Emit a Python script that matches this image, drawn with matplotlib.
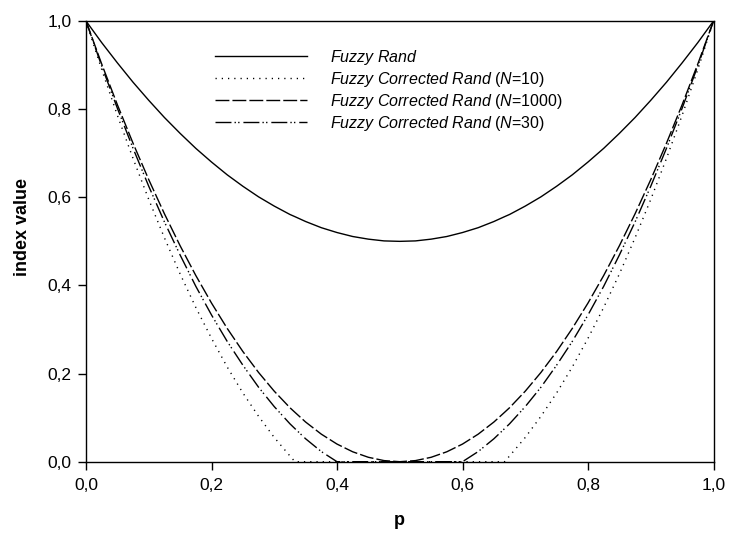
import matplotlib
matplotlib.use("Agg")
import matplotlib.pyplot as plt
from matplotlib.ticker import FixedLocator, FuncFormatter

plt.rcParams['font.family'] = ['Liberation Sans', 'DejaVu Sans']
plt.rcParams['mathtext.fontset'] = 'custom'
plt.rcParams['mathtext.rm'] = 'Liberation Sans'
plt.rcParams['mathtext.it'] = 'Liberation Sans:italic'
plt.rcParams['mathtext.bf'] = 'Liberation Sans:bold'

# ---- data ----
p = [0.0, 0.025, 0.05, 0.075, 0.1, 0.125, 0.15, 0.175, 0.2, 0.225, 0.25, 0.275,
     0.3, 0.325, 0.333, 0.35, 0.375, 0.4, 0.425, 0.45, 0.475, 0.5,
     0.525, 0.55, 0.575, 0.6, 0.625, 0.65, 0.667, 0.675, 0.7, 0.725, 0.75,
     0.775, 0.8, 0.825, 0.85, 0.875, 0.9, 0.925, 0.95, 0.975, 1.0]

fuzzy_rand = [1.0, 0.951, 0.905, 0.861, 0.82, 0.781, 0.745, 0.711, 0.68, 0.651, 0.625, 0.601,
              0.58, 0.561, 0.556, 0.545, 0.531, 0.52, 0.511, 0.505, 0.501, 0.5,
              0.501, 0.505, 0.511, 0.52, 0.531, 0.545, 0.556, 0.561, 0.58, 0.601, 0.625,
              0.651, 0.68, 0.711, 0.745, 0.781, 0.82, 0.861, 0.905, 0.951, 1.0]

corrected_n10 = [1.0, 0.890, 0.786, 0.688, 0.595, 0.508, 0.426, 0.350, 0.280, 0.215, 0.156, 0.103,
                 0.055, 0.013, 0.0, 0.0, 0.0, 0.0, 0.0, 0.0, 0.0, 0.0,
                 0.0, 0.0, 0.0, 0.0, 0.0, 0.0, 0.0, 0.013, 0.055, 0.103, 0.156,
                 0.215, 0.280, 0.350, 0.426, 0.508, 0.595, 0.688, 0.786, 0.890, 1.0]

corrected_n1000 = [1.0, 0.9025, 0.81, 0.7225, 0.64, 0.5625, 0.49, 0.4225, 0.36, 0.3025, 0.25, 0.2025,
                   0.16, 0.1225, 0.112, 0.09, 0.0625, 0.04, 0.0225, 0.01, 0.0025, 0.0,
                   0.0025, 0.01, 0.0225, 0.04, 0.0625, 0.09, 0.112, 0.1225, 0.16, 0.2025, 0.25,
                   0.3025, 0.36, 0.4225, 0.49, 0.5625, 0.64, 0.7225, 0.81, 0.9025, 1.0]

corrected_n30 = [1.0, 0.898, 0.802, 0.711, 0.625, 0.544, 0.469, 0.398, 0.333, 0.273, 0.219, 0.169,
                 0.125, 0.086, 0.075, 0.052, 0.023, 0.0, 0.0, 0.0, 0.0, 0.0,
                 0.0, 0.0, 0.0, 0.0, 0.023, 0.052, 0.075, 0.086, 0.125, 0.169, 0.219,
                 0.273, 0.333, 0.398, 0.469, 0.544, 0.625, 0.711, 0.802, 0.898, 1.0]

ticks = [0.0, 0.2, 0.4, 0.6, 0.8, 1.0]

labels = [r'$\mathit{Fuzzy\ Rand}$',
          r'$\mathit{Fuzzy\ Corrected\ Rand}$ ($\mathit{N}$=10)',
          r'$\mathit{Fuzzy\ Corrected\ Rand}$ ($\mathit{N}$=1000)',
          r'$\mathit{Fuzzy\ Corrected\ Rand}$ ($\mathit{N}$=30)']

# ---- figure ----
fig = plt.figure(figsize=(7.31, 5.36), dpi=100)
ax = fig.add_axes([86 / 731, 74.3 / 536, 627.5 / 731, 440.7 / 536])

lw = 1.0
ax.plot(p, fuzzy_rand, color='black', lw=lw, linestyle='-', label=labels[0])
ax.plot(p, corrected_n10, color='black', lw=lw, linestyle=(0, (0.9, 3.6)), label=labels[1])
ax.plot(p, corrected_n1000, color='black', lw=lw, linestyle=(0, (10, 2.2)), label=labels[2])
ax.plot(p, corrected_n30, color='black', lw=lw, linestyle=(0, (11.5, 2.2, 1, 1.6, 1, 2.8)),
        label=labels[3])

ax.set_xlim(0, 1)
ax.set_ylim(0, 1)
ax.xaxis.set_major_locator(FixedLocator(ticks))
ax.yaxis.set_major_locator(FixedLocator(ticks))
fmt = FuncFormatter(lambda v, pos: f"{v:.1f}".replace('.', ','))
ax.xaxis.set_major_formatter(fmt)
ax.yaxis.set_major_formatter(fmt)

for s in ax.spines.values():
    s.set_linewidth(1.0)

ax.tick_params(axis='both', direction='out', length=5.5, width=1.0, labelsize=12.5,
               top=False, right=False)
ax.tick_params(axis='x', pad=6)
ax.tick_params(axis='y', pad=5)

ax.set_xlabel('p', fontsize=13, fontweight='bold')
ax.set_ylabel('index value', fontsize=13, fontweight='bold')
ax.xaxis.set_label_coords(0.5, -0.115)
ax.yaxis.set_label_coords(-0.087, 0.532)

leg = ax.legend(loc='upper left', bbox_to_anchor=(215 / 731, (536 - 48) / 536),
                bbox_transform=fig.transFigure, frameon=False, fontsize=11.5,
                borderpad=0, borderaxespad=0, handlelength=5.75, handletextpad=1.44,
                labelspacing=0.18)

fig.savefig('out.png', dpi=100)
